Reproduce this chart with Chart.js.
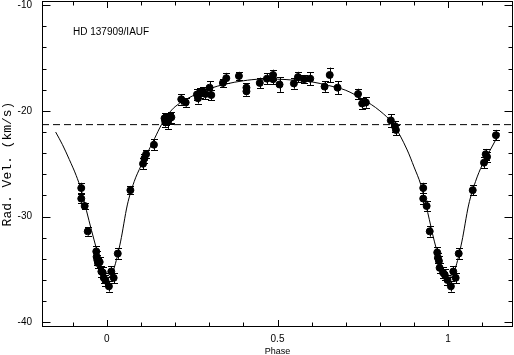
<!DOCTYPE html>
<html><head><meta charset="utf-8">
<script src="https://cdn.jsdelivr.net/npm/chart.js@4"></script>
<style>html,body{margin:0;padding:0;background:#fff;overflow:hidden}</style>
</head><body>
<canvas id="c" width="514" height="355"></canvas>
<script>
// ---- data ----
const obsPhase = [-0.075,-0.075,-0.065,-0.056,-0.031,-0.030,-0.028,-0.026,-0.021,-0.016,-0.012,-0.009,-0.004,0.006,0.013,0.020,0.032,0.069,0.106,0.110,0.115,0.138,
  0.169,0.171,0.174,0.179,0.184,0.189,0.218,0.231,0.264,0.267,0.272,0.281,0.289,0.301,0.306,0.340,0.350,0.387,0.409,0.409,0.448,0.469,0.487,0.487,0.506,
  0.548,0.560,0.578,0.596,0.638,0.653,0.676,0.736,0.748,0.759,0.832,0.844,0.847,
  0.927,0.927,0.937,0.946,0.968,0.970,0.973,0.975,0.985,0.990,0.998,1.008,1.015,1.022,1.031,1.072,1.105,1.110,1.114,1.140];
const obsVel = [-27.3,-28.3,-29.0,-31.4,-33.3,-33.8,-34.1,-34.4,-34.3,-35.2,-35.3,-35.8,-36.05,-36.6,-35.2,-35.8,-33.5,-27.5,-25.0,-24.5,-24.1,-23.2,
  -20.7,-21.0,-20.8,-21.0,-20.7,-20.6,-18.9,-19.2,-18.45,-18.8,-18.3,-18.15,-18.4,-17.8,-18.5,-17.35,-16.9,-16.7,-17.8,-18.15,-17.35,-16.95,-16.6,-17.0,-17.5,
  -17.4,-16.8,-17.0,-16.95,-17.7,-16.6,-17.8,-18.4,-19.3,-19.2,-20.9,-21.45,-21.8,
  -27.3,-28.3,-29.0,-31.4,-33.4,-33.9,-34.2,-34.85,-35.3,-35.5,-36.0,-36.6,-35.2,-35.8,-33.5,-27.5,-24.9,-24.1,-24.35,-22.3];
const obsErr = [0.5,0.4,0.3,0.4,0.5,0.5,0.5,0.5,0.5,0.5,0.5,0.5,0.5,0.5,0.5,0.5,0.5,0.4,0.5,0.4,0.4,0.5,
  0.5,0.5,0.5,0.7,0.5,0.5,0.5,0.4,0.5,0.5,0.5,0.4,0.5,0.6,0.5,0.4,0.5,0.4,0.4,0.4,0.5,0.5,0.5,0.5,0.7,
  0.5,0.5,0.4,0.6,0.5,0.7,0.6,0.5,0.5,0.5,0.6,0.5,0.5,
  0.5,0.5,0.5,0.5,0.5,0.5,0.5,0.5,0.5,0.5,0.5,0.5,0.5,0.5,0.5,0.5,0.5,0.5,0.5,0.5];
const curvePhase = [-0.15,-0.13,-0.11,-0.09,-0.075,-0.06,-0.045,-0.03,-0.015,0.0,0.01,0.02,0.04,0.06,0.08,0.10,0.12,0.14,0.16,0.18,0.20,0.25,0.30,0.35,0.40,0.45,0.50,0.55,0.60,0.65,0.70,0.75,0.80,0.84,0.88,0.90,0.92,0.94,0.96,0.98,1.0,1.01,1.02,1.04,1.06,1.08,1.10,1.12,1.15];
const curveVel = [-22.0,-23.2,-24.6,-26.1,-27.5,-29.4,-31.3,-33.1,-34.8,-35.9,-35.6,-35.0,-32.4,-28.9,-26.7,-25.2,-23.9,-22.6,-21.3,-20.3,-19.6,-18.6,-17.9,-17.45,-17.15,-17.0,-17.0,-17.1,-17.25,-17.6,-18.05,-18.9,-20.0,-21.3,-23.7,-25.3,-27.0,-29.6,-32.4,-34.6,-35.9,-35.6,-35.0,-32.4,-28.9,-26.7,-25.1,-23.9,-22.1];
const gammaVel = -21.3;
const xTickLabels = [0, 0.5, 1];
const yTickLabels = [-40, -30, -20, -10];
const xRange = [-0.19, 1.19];
const yRange = [-40.45, -9.6];
const starLabel = 'HD 137909/IAUF';

const frame = {
  id: 'frame',
  afterDatasetsDraw(chart) {
    const {ctx, scales: {x, y}} = chart;
    ctx.save();
    ctx.strokeStyle = '#000'; ctx.lineWidth = 1;
    for (let i = 0; i < obsPhase.length; i++) {
      const px = Math.round(x.getPixelForValue(obsPhase[i])) + 0.5;
      const y1 = y.getPixelForValue(obsVel[i] - obsErr[i]);
      const y2 = y.getPixelForValue(obsVel[i] + obsErr[i]);
      ctx.beginPath();
      ctx.moveTo(px, y1); ctx.lineTo(px, y2);
      ctx.moveTo(px - 3.5, Math.round(y1) + 0.5); ctx.lineTo(px + 3.5, Math.round(y1) + 0.5);
      ctx.moveTo(px - 3.5, Math.round(y2) + 0.5); ctx.lineTo(px + 3.5, Math.round(y2) + 0.5);
      ctx.stroke();
    }
    ctx.restore();
  },
  afterDraw(chart) {
    const {ctx, chartArea: a, scales: {x, y}} = chart;
    ctx.save();
    ctx.strokeStyle = '#000'; ctx.lineWidth = 1;
    ctx.strokeRect(a.left + 0.5, a.top + 0.5, a.right - a.left - 1, a.bottom - a.top - 1);
    ctx.beginPath();
    for (let i = -1; i <= 11; i++) {
      const px = Math.round(x.getPixelForValue(i / 10)) + 0.5;
      const len = (i % 5 === 0) ? 7 : 4.5;
      ctx.moveTo(px, a.bottom); ctx.lineTo(px, a.bottom - len);
      ctx.moveTo(px, a.top); ctx.lineTo(px, a.top + len);
    }
    for (let v = -40; v <= -10; v += 2) {
      const py = Math.round(y.getPixelForValue(v)) + 0.5;
      const len = (v % 10 === 0) ? 8.5 : 4.5;
      ctx.moveTo(a.left, py); ctx.lineTo(a.left + len, py);
      ctx.moveTo(a.right, py); ctx.lineTo(a.right - len, py);
    }
    ctx.stroke();
    ctx.fillStyle = '#000';
    ctx.font = '10px "Liberation Sans"';
    ctx.textBaseline = 'middle';
    ctx.fillText(starLabel, a.left + 31, a.top + 31);
    ctx.restore();
  }
};

const zeroPad = s => { s.paddingTop = 0; s.paddingBottom = 0; s.paddingLeft = 0; s.paddingRight = 0; };

new Chart(document.getElementById('c'), {
  type: 'scatter',
  data: {
    datasets: [
      { data: obsPhase.map((p, i) => ({x: p, y: obsVel[i]})), pointRadius: 3.5, pointBackgroundColor: '#000', pointBorderColor: '#000', pointBorderWidth: 1, showLine: false, order: 0 },
      { data: curvePhase.map((p, i) => ({x: p, y: curveVel[i]})), showLine: true, borderColor: '#000', borderWidth: 1, pointRadius: 0, cubicInterpolationMode: 'monotone', order: 2 },
      { data: [{x: xRange[0], y: gammaVel}, {x: xRange[1], y: gammaVel}], showLine: true, borderColor: '#000', borderWidth: 1, borderDash: [7, 4], pointRadius: 0, order: 1 }
    ]
  },
  options: {
    responsive: false, animation: false, devicePixelRatio: 1,
    layout: { autoPadding: false, padding: { top: 1, right: 1, left: 0, bottom: 0 } },
    plugins: { legend: { display: false }, tooltip: { enabled: false } },
    scales: {
      x: {
        type: 'linear', min: xRange[0], max: xRange[1],
        grid: { display: false, drawTicks: false }, border: { display: false },
        afterBuildTicks: s => { s.ticks = xTickLabels.map(v => ({value: v})); },
        afterFit: s => { s.height = 28; zeroPad(s); },
        ticks: { color: '#000', font: { family: 'Liberation Sans', size: 10 }, padding: 6, maxRotation: 0, autoSkip: false, callback: v => String(v) },
        title: { display: true, text: 'Phase', color: '#000', font: { family: 'Liberation Sans', size: 9, lineHeight: 1 }, padding: { top: 0, bottom: -1 } }
      },
      y: {
        type: 'linear', min: yRange[0], max: yRange[1],
        grid: { display: false, drawTicks: false }, border: { display: false },
        afterBuildTicks: s => { s.ticks = yTickLabels.map(v => ({value: v})); },
        afterFit: s => { s.width = 42; zeroPad(s); },
        ticks: { color: '#000', font: { family: 'Liberation Sans', size: 10 }, padding: 10, autoSkip: false, callback: v => String(v) },
        title: { display: true, text: 'Rad. Vel. (km/s)', color: '#000', font: { family: 'Liberation Mono', size: 13, lineHeight: 1.2 }, padding: { top: 0, bottom: 0 } }
      }
    }
  },
  plugins: [frame]
});
</script>
</body></html>
